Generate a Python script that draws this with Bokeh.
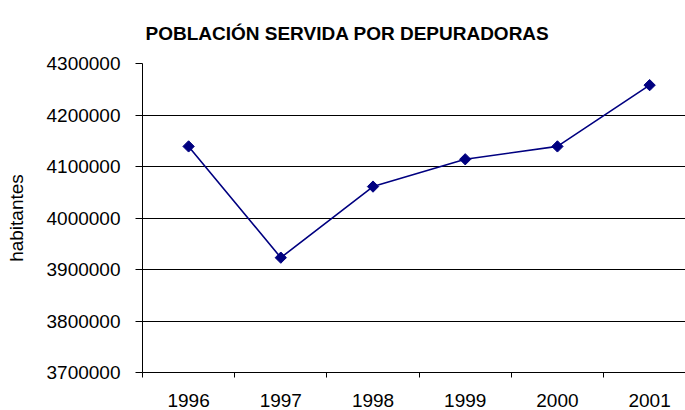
from bokeh.plotting import figure
from bokeh.models import Range1d, FixedTicker, BasicTickFormatter, ColumnDataSource
from bokeh.embed import file_html
from bokeh.resources import INLINE
import numpy as np

years = ["1996", "1997", "1998", "1999", "2000", "2001"]
habitantes = [4139000, 3923000, 4061000, 4114000, 4139000, 4258000]
y_ticks = [3700000, 3800000, 3900000, 4000000, 4100000, 4200000, 4300000]

xpos = [i + 0.5 for i in range(len(years))]
src = ColumnDataSource(dict(x=xpos, y=habitantes, year=years))

FONT = "Liberation Sans"

p = figure(width=685, height=410, output_backend="svg", toolbar_location=None,
           x_range=Range1d(0, 5.889), y_range=Range1d(3700000, 4300000),
           min_border_left=142, min_border_right=0, min_border_top=63,
           min_border_bottom=38, title="POBLACIÓN SERVIDA POR DEPURADORAS")
p.outline_line_color = None
p.background_fill_color = "white"

p.title.text_font = FONT
p.title.text_font_size = "19px"
p.title.text_font_style = "bold"
p.title.text_color = "black"
p.title.align = "left"
p.title.offset = 3
p.title.standoff = 39

p.line("x", "y", source=src, line_color="#000080", line_width=1.6)
p.scatter("x", "y", source=src, marker="square", size=8, angle=np.pi / 4,
          fill_color="#000080", line_color="#000080")

# y axis
ya = p.left[0]
ya.ticker = FixedTicker(ticks=y_ticks)
ya.formatter = BasicTickFormatter(use_scientific=False)
ya.axis_label = "habitantes"
ya.axis_label_text_font = FONT
ya.axis_label_text_font_size = "19px"
ya.axis_label_text_font_style = "normal"
ya.axis_label_text_color = "black"
ya.axis_label_standoff = 17
ya.major_label_text_font = FONT
ya.major_label_text_font_size = "19px"
ya.major_label_text_color = "black"
ya.major_label_standoff = 15
ya.major_tick_out = 7
ya.major_tick_in = 0
ya.minor_tick_line_color = None
ya.axis_line_color = "black"
ya.major_tick_line_color = "black"

# x axis (bottom)
xa = p.below[0]
xa.ticker = FixedTicker(ticks=xpos, minor_ticks=list(range(len(years) + 1)))
xa.major_label_overrides = {x: y for x, y in zip(xpos, years)}
xa.major_label_text_font = FONT
xa.major_label_text_font_size = "19px"
xa.major_label_text_color = "black"
xa.major_tick_out = 0
xa.major_tick_in = 0
xa.minor_tick_out = 5
xa.minor_tick_in = 0
xa.minor_tick_line_color = "black"
xa.major_label_standoff = 16
xa.axis_line_color = "black"

for g in p.xgrid:
    g.visible = False
for g in p.ygrid:
    g.grid_line_color = "black"
    g.grid_line_width = 1
    g.ticker = FixedTicker(ticks=y_ticks)

open("out.html", "w").write(file_html(p, INLINE))
